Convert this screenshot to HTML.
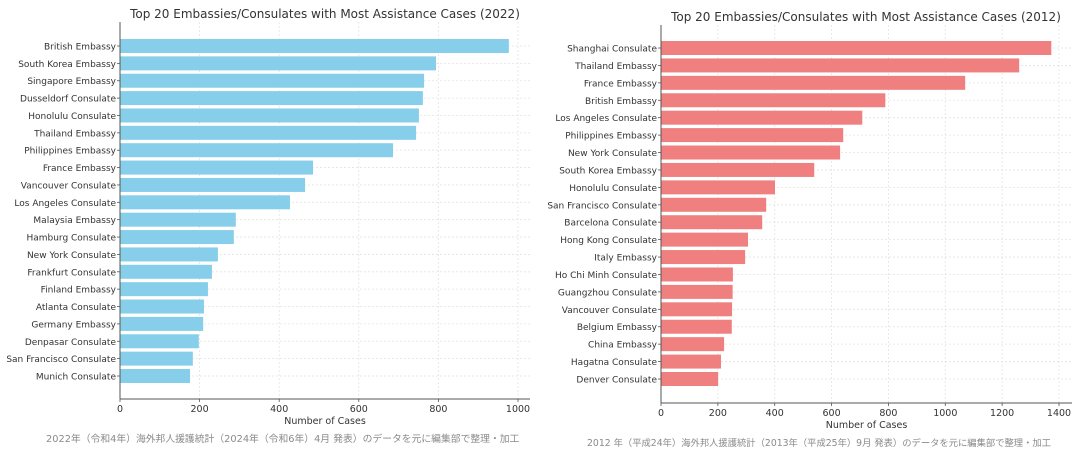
<!DOCTYPE html>
<html><head><meta charset="utf-8"><style>
html,body{margin:0;padding:0;background:#fff;}
svg{display:block;font-family:"DejaVu Sans","Liberation Sans","Noto Sans CJK JP",sans-serif;}
</style></head><body>
<svg id="c" width="1080" height="464" viewBox="0 0 1080 464">
<rect width="1080" height="464" fill="#fff"/>
</svg>
<script>
const leftCategories=["British Embassy","South Korea Embassy","Singapore Embassy","Dusseldorf Consulate","Honolulu Consulate","Thailand Embassy","Philippines Embassy","France Embassy","Vancouver Consulate","Los Angeles Consulate","Malaysia Embassy","Hamburg Consulate","New York Consulate","Frankfurt Consulate","Finland Embassy","Atlanta Consulate","Germany Embassy","Denpasar Consulate","San Francisco Consulate","Munich Consulate"];
const leftValues=[977,794,764,761,751,744,686,485,465,427,291,286,246,231,221,211,209,198,183,176];
const leftTicks=[0,200,400,600,800,1000];
const rightCategories=["Shanghai Consulate","Thailand Embassy","France Embassy","British Embassy","Los Angeles Consulate","Philippines Embassy","New York Consulate","South Korea Embassy","Honolulu Consulate","San Francisco Consulate","Barcelona Consulate","Hong Kong Consulate","Italy Embassy","Ho Chi Minh Consulate","Guangzhou Consulate","Vancouver Consulate","Belgium Embassy","China Embassy","Hagatna Consulate","Denver Consulate"];
const rightValues=[1373,1260,1070,789,708,641,630,539,401,370,356,306,296,253,252,250,249,222,211,201];
const rightTicks=[0,200,400,600,800,1000,1200,1400];

const NS="http://www.w3.org/2000/svg";
const svg=document.getElementById('c');
function el(t,a,txt){const e=document.createElementNS(NS,t);for(const k in a)e.setAttribute(k,a[k]);if(txt!==undefined)e.textContent=txt;svg.appendChild(e);return e;}

function drawChart(cfg){
  const x=v=>cfg.x0+(v-0)*(cfg.x1-cfg.x0)/(cfg.tmax);
  const y=i=>cfg.yFirst+i*(cfg.yLast-cfg.yFirst)/(cfg.cats.length-1);
  cfg.ticks.forEach(t=>{
    const g=el('line',{x1:x(t),x2:x(t),y1:cfg.top,y2:cfg.bottom,stroke:'#e3e3e3','stroke-width':0.8,'stroke-dasharray':'2,2'});
    
    
  });
  cfg.cats.forEach((c,i)=>{
    const g=el('line',{x1:cfg.x0,x2:cfg.right,y1:y(i),y2:y(i),stroke:'#e3e3e3','stroke-width':0.8,'stroke-dasharray':'2,2'});
    
    
  });
  cfg.cats.forEach((c,i)=>{
    const b=el('rect',{x:cfg.x0,y:y(i)-7,width:x(cfg.vals[i])-cfg.x0,height:14,fill:cfg.color});
    
    
    const l=el('text',{x:cfg.x0-4,y:y(i)+3.5,'text-anchor':'end','font-size':9,fill:'#333'},c);
    
    
    el('line',{x1:cfg.x0-3,x2:cfg.x0,y1:y(i),y2:y(i),stroke:'#555','stroke-width':0.8});
  });
  const ya=el('line',{x1:cfg.x0,x2:cfg.x0,y1:cfg.top,y2:cfg.bottom,stroke:'#555','stroke-width':1});
  
  
  const xa=el('line',{x1:cfg.x0,x2:cfg.right,y1:cfg.bottom,y2:cfg.bottom,stroke:'#555','stroke-width':1});
  
  
  cfg.ticks.forEach(t=>{
    el('line',{x1:x(t),x2:x(t),y1:cfg.bottom,y2:cfg.bottom+3,stroke:'#555','stroke-width':0.8});
    const tl=el('text',{x:x(t),y:cfg.bottom+13,'text-anchor':'middle','font-size':9.5,fill:'#333'},String(t));
    
    
  });
  const xt=el('text',{x:(cfg.x0+cfg.right)/2,y:cfg.bottom+25,'text-anchor':'middle','font-size':9.5,fill:'#333'},'Number of Cases');
  
  
  const tt=el('text',{x:cfg.titleX,y:cfg.titleY,'text-anchor':'middle','font-size':12,fill:'#333'},cfg.title);
  
  
  const fn=el('text',{x:cfg.noteX,y:cfg.noteY,'font-size':cfg.noteSize,fill:'#8a8a8a'},cfg.note);
  
  
}
drawChart({id:'chart-2022',cats:leftCategories,vals:leftValues,ticks:leftTicks,tmax:1000,x0:120,x1:518,right:530,top:22,bottom:399,yFirst:46,yLast:376,color:'#87ceeb',title:'Top 20 Embassies/Consulates with Most Assistance Cases (2022)',titleX:325,titleY:18,note:'2022年（令和4年）海外邦人援護統計（2024年（令和6年）4月 発表）のデータを元に編集部で整理・加工',noteX:46,noteY:442,noteSize:9.8});
drawChart({id:'chart-2012',cats:rightCategories,vals:rightValues,ticks:rightTicks,tmax:1400,x0:661,x1:1059,right:1072,top:25,bottom:403,yFirst:48,yLast:379,color:'#f08080',title:'Top 20 Embassies/Consulates with Most Assistance Cases (2012)',titleX:866,titleY:21,note:'2012 年（平成24年）海外邦人援護統計（2013年（平成25年）9月 発表）のデータを元に編集部で整理・加工',noteX:587,noteY:446,noteSize:9.3});
</script>
</body></html>
